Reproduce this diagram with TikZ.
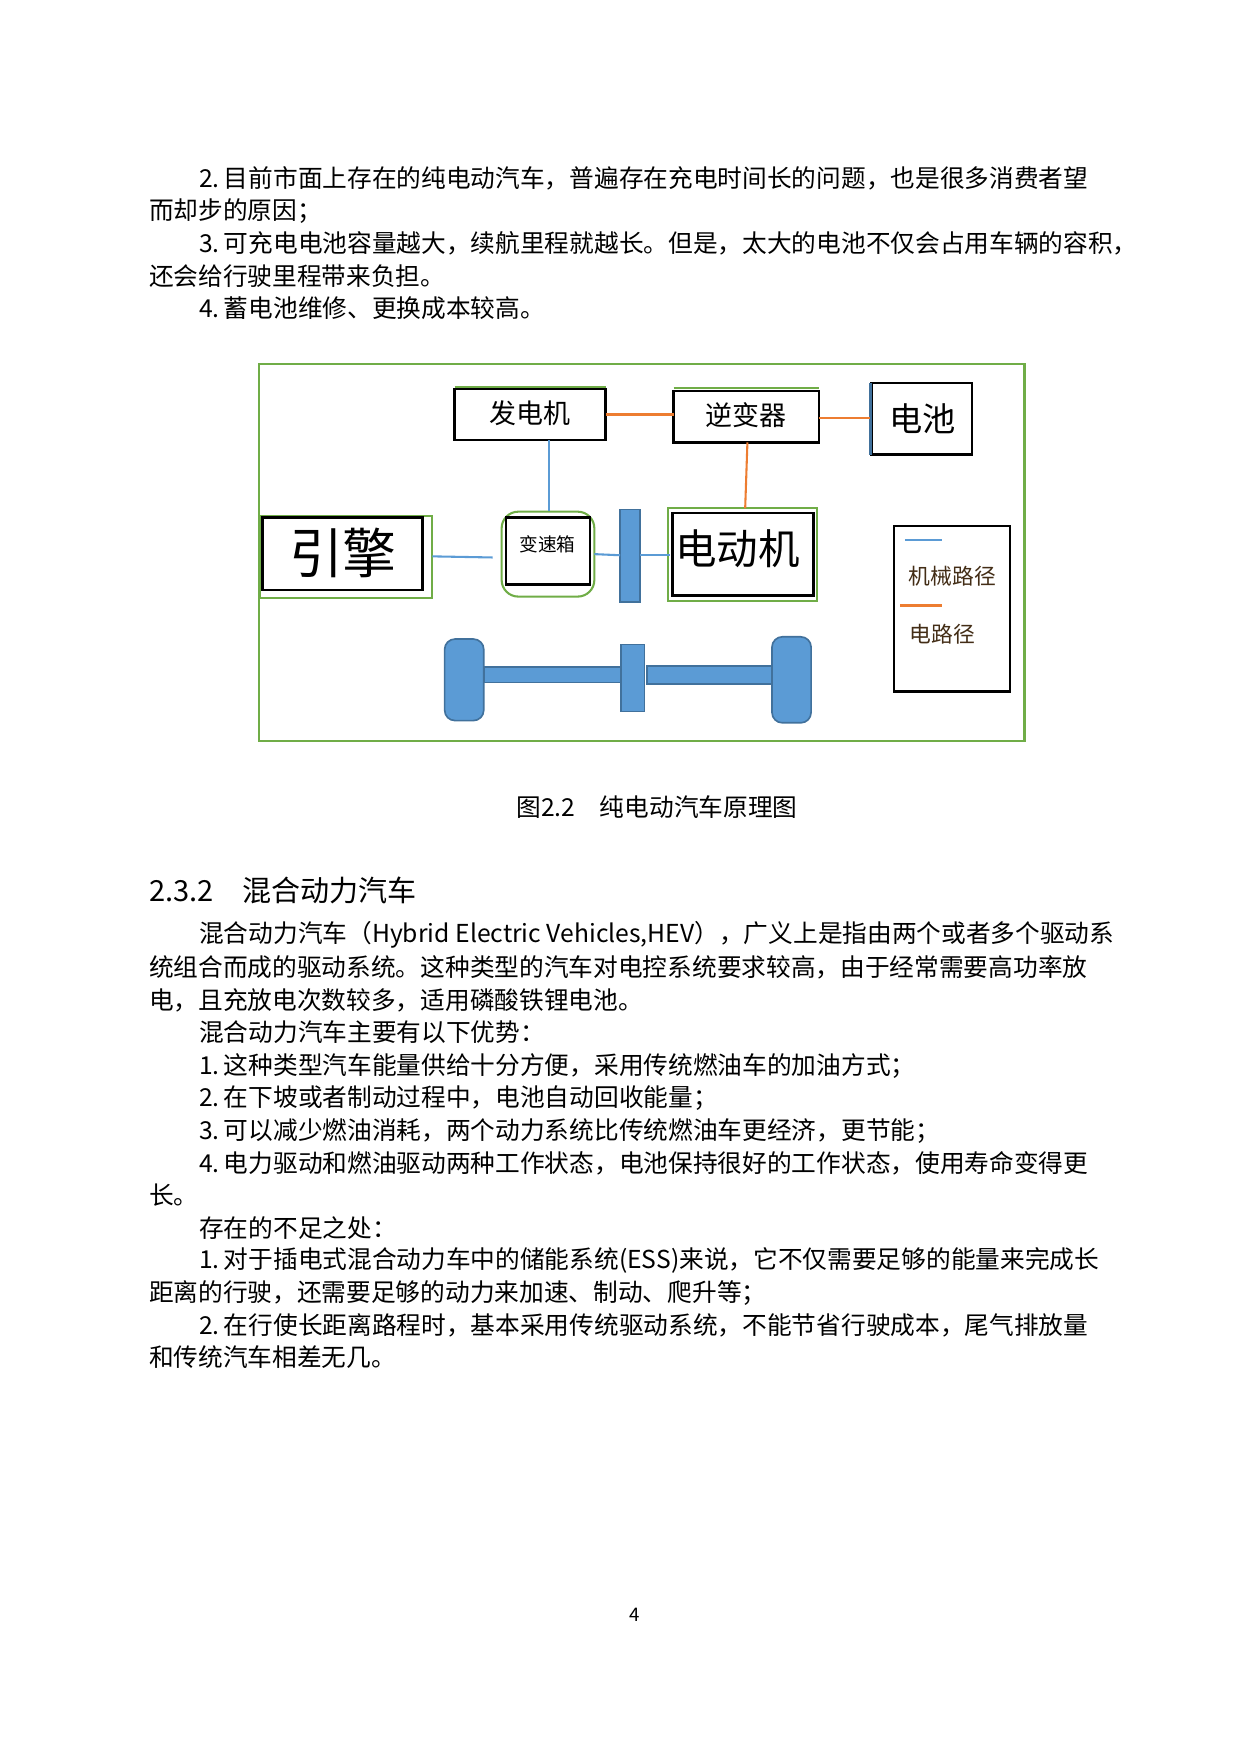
\documentclass[tikz,border=0pt]{standalone}
\usepackage{fontspec}
\setmainfont{Noto Sans CJK SC}
\definecolor{frame green}{HTML}{70AD47}
\definecolor{mech blue}{HTML}{5B9BD5}
\definecolor{mech edge}{HTML}{41719C}
\definecolor{elec orange}{HTML}{ED7D31}
\tikzset{
  line/.style={anchor=west,inner sep=0pt,font=\fontsize{11.9pt}{13pt}\selectfont},
  hull/.style={draw=frame green,line width=1pt},
  shaft/.style={draw=mech edge,fill=mech blue,line width=0.8pt},
  mech/.style={draw=mech blue,line width=1pt},
  elec/.style={draw=elec orange,line width=1pt}
}
\begin{document}
\begin{tikzpicture}[x=0.01892cm,y=-0.01892cm]
    \useasboundingbox (0,0) rectangle (1110,1570);

    % text above
    \node[line] (t1) at (178,160) {2.\,目前市面上存在的纯电动汽车，普遍存在充电时间长的问题，也是很多消费者望};
    \node[line] (t2) at (133,189) {而却步的原因；};
    \node[line] (t3) at (178,218) {3.\,可充电电池容量越大，续航里程就越长。但是，太大的电池不仅会占用车辆的容积，};
    \node[line] (t4) at (133,247) {还会给行驶里程带来负担。};
    \node[line] (t5) at (178,276) {4.\,蓄电池维修、更换成本较高。};

    % frame
    \draw[hull] (232,326) rectangle (917,663);

    % boxes
    \draw[hull] (407,346) -- (542,346);
    \draw[line width=1.2pt] (407,348) rectangle (542,394);
    \node[font=\fontsize{13pt}{15pt}\selectfont] (gen) at (474.5,370) {发电机};
    \draw[hull] (603,347) -- (733,347);
    \draw[line width=1.2pt] (603,350) rectangle (733,396);
    \node[font=\fontsize{13pt}{15pt}\selectfont] (inv) at (668,372) {逆变器};
    \draw[line width=1.2pt] (780,343) rectangle (870,407);
    \draw[mech edge,line width=1.2pt] (779,343) -- (779,407);
    \node[font=\fontsize{16pt}{18pt}\selectfont] (bat) at (826,375) {电池};

    \draw[hull] (233,462) rectangle (387,535);
    \draw[line width=1.2pt] (235,463) rectangle (378,528);
    \node[font=\fontsize{26pt}{28pt}\selectfont] (eng) at (307,495) {引擎};

    \draw[hull,rounded corners=8pt] (449,458) rectangle (532,534);
    \draw[line width=1.2pt] (453,463) rectangle (528,523);
    \node[font=\fontsize{9pt}{11pt}\selectfont] (gear) at (490,487) {变速箱};

    \draw[shaft] (555,456) rectangle (573,539);

    \draw[hull] (598,455) rectangle (731,538);
    \draw[line width=1.2pt] (602,459) rectangle (728,533);
    \node[font=\fontsize{20pt}{22pt}\selectfont] (mot) at (660,491) {电动机};

    % connectors
    \draw[elec] (542,371) -- (603,371);
    \draw[elec] (733,374) -- (779,374);
    \draw[elec] (669,396) -- (667,455);
    \draw[mech] (491,394) -- (491,457);
    \draw[mech] (387,498) -- (441,499);
    \draw[mech] (532,496) -- (555,497);
    \draw[mech] (573,497) -- (600,497);

    % wheels
    \draw[shaft,rounded corners=5pt] (398,572) rectangle (433,645);
    \draw[shaft] (433,597) rectangle (556,611);
    \draw[shaft] (556,577) rectangle (577,637);
    \draw[shaft] (579,596) rectangle (691,612);
    \draw[shaft,rounded corners=5pt] (691,570) rectangle (726,647);

    % legend
    \draw[line width=1.2pt] (800,471) rectangle (904,619);
    \draw[mech] (810,483) -- (843,483);
    \node[line,text=black!65!brown,font=\fontsize{10.5pt}{12pt}\selectfont] (leg1) at (813,516) {机械路径};
    \draw[elec] (806,542) -- (843,542);
    \node[line,text=black!65!brown,font=\fontsize{10.5pt}{12pt}\selectfont] (leg2) at (814,568) {电路径};

    % caption and section
    \node[font=\fontsize{11.9pt}{13pt}\selectfont] (cap) at (588,722) {图2.2\quad 纯电动汽车原理图};
    \node[line,font=\fontsize{14pt}{16pt}\selectfont] (sec) at (133,797) {2.3.2\quad 混合动力汽车};

    % text below
    \node[line] (b1) at (178,837) {混合动力汽车（Hybrid Electric Vehicles,HEV），广义上是指由两个或者多个驱动系};
    \node[line] (b2) at (133,866) {统组合而成的驱动系统。这种类型的汽车对电控系统要求较高，由于经常需要高功率放};
    \node[line] (b3) at (133,895) {电，且充放电次数较多，适用磷酸铁锂电池。};
    \node[line] (b4) at (178,924) {混合动力汽车主要有以下优势：};
    \node[line] (b5) at (178,954) {1.\,这种类型汽车能量供给十分方便，采用传统燃油车的加油方式；};
    \node[line] (b6) at (178,983) {2.\,在下坡或者制动过程中，电池自动回收能量；};
    \node[line] (b7) at (178,1012) {3.\,可以减少燃油消耗，两个动力系统比传统燃油车更经济，更节能；};
    \node[line] (b8) at (178,1041) {4.\,电力驱动和燃油驱动两种工作状态，电池保持很好的工作状态，使用寿命变得更};
    \node[line] (b9) at (133,1070) {长。};
    \node[line] (b10) at (178,1099) {存在的不足之处：};
    \node[line] (b11) at (178,1128) {1.\,对于插电式混合动力车中的储能系统(ESS)来说，它不仅需要足够的能量来完成长};
    \node[line] (b12) at (133,1157) {距离的行驶，还需要足够的动力来加速、制动、爬升等；};
    \node[line] (b13) at (178,1186) {2.\,在行使长距离路程时，基本采用传统驱动系统，不能节省行驶成本，尾气排放量};
    \node[line] (b14) at (133,1215) {和传统汽车相差无几。};

    \node[font=\small] (page) at (568,1445) {4};
\end{tikzpicture}
\end{document}
